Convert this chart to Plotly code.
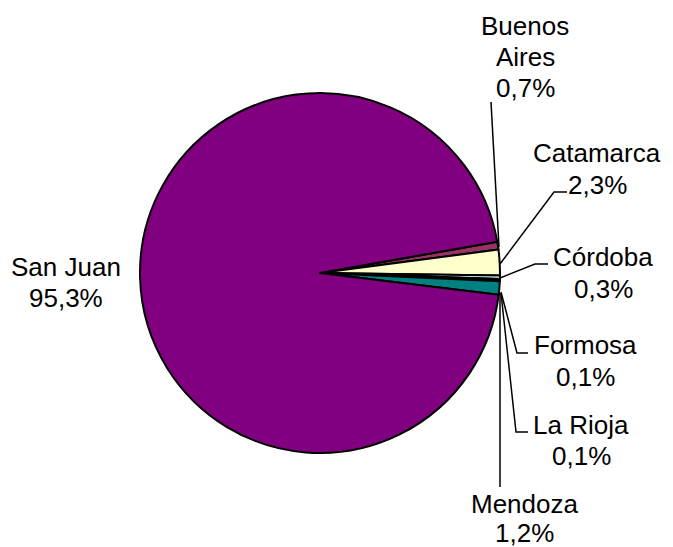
import plotly.graph_objects as go

# ---- data ----
provinces = ["Buenos Aires", "Catamarca", "Córdoba", "Formosa", "La Rioja", "Mendoza", "San Juan"]
shares = [0.7, 2.3, 0.3, 0.1, 0.1, 1.2, 95.3]
colors = ["#993366", "#FFFFCC", "#CCFFFF", "#660066", "#FF8080", "#008080", "#800080"]

# ---- label layout (pixel positions in a 673x547 canvas) ----
W, H = 673, 547
label_lines = {
    "Buenos Aires": (["Buenos", "Aires"], 525, [26, 57], 88),
    "Catamarca": (["Catamarca"], 597, [153], 185),
    "Córdoba": (["Córdoba"], 603, [257], 289),
    "Formosa": (["Formosa"], 585, [345], 377),
    "La Rioja": (["La Rioja"], 581, [425], 456),
    "Mendoza": (["Mendoza"], 524, [504], 533),
    "San Juan": (["San Juan"], 66, [267], 298),
}
leaders = {
    "Buenos Aires": [(491, 102), (499, 247)],
    "Catamarca": [(567, 192), (554, 192), (500, 264)],
    "Córdoba": [(548, 264), (535, 264), (500, 278)],
    "Formosa": [(528, 353), (517, 353), (501, 292)],
    "La Rioja": [(528, 432), (516, 432), (501, 293)],
    "Mendoza": [(500, 487), (500, 293)],
}

def px(x):
    return x / W

def py(y):
    return 1 - y / H

cx, cy, r = 320, 273, 180

fig = go.Figure(go.Pie(
    labels=provinces,
    values=shares,
    sort=False,
    direction="clockwise",
    rotation=80,
    marker=dict(colors=colors, line=dict(color="black", width=2)),
    textinfo="none",
    hoverinfo="label+percent",
    showlegend=False,
    domain=dict(x=[px(cx - r), px(cx + r)], y=[py(cy + r), py(cy - r)]),
))

font = dict(family="Liberation Sans, Arial, sans-serif", size=26, color="black")
annotations = []
for name, val in zip(provinces, shares):
    lines, x, ys, yp = label_lines[name]
    for t, y in zip(lines, ys):
        annotations.append(dict(text=t, x=px(x), y=py(y), xref="paper", yref="paper",
                                showarrow=False, font=font, xanchor="center", yanchor="middle"))
    pct = f"{val:.1f}".replace(".", ",") + "%"
    annotations.append(dict(text=pct, x=px(x), y=py(yp), xref="paper", yref="paper",
                            showarrow=False, font=font, xanchor="center", yanchor="middle"))

shapes = []
for name, pts in leaders.items():
    path = "M " + " L ".join(f"{px(a):.5f},{py(b):.5f}" for a, b in pts)
    shapes.append(dict(type="path", path=path, xref="paper", yref="paper",
                       line=dict(color="black", width=1.5)))

fig.update_layout(
    width=W, height=H,
    margin=dict(l=0, r=0, t=0, b=0),
    paper_bgcolor="white", plot_bgcolor="white",
    annotations=annotations,
    shapes=shapes,
)

fig.write_html("out.html", config={"displayModeBar": False},
               post_script="document.body.style.margin='0px';")
